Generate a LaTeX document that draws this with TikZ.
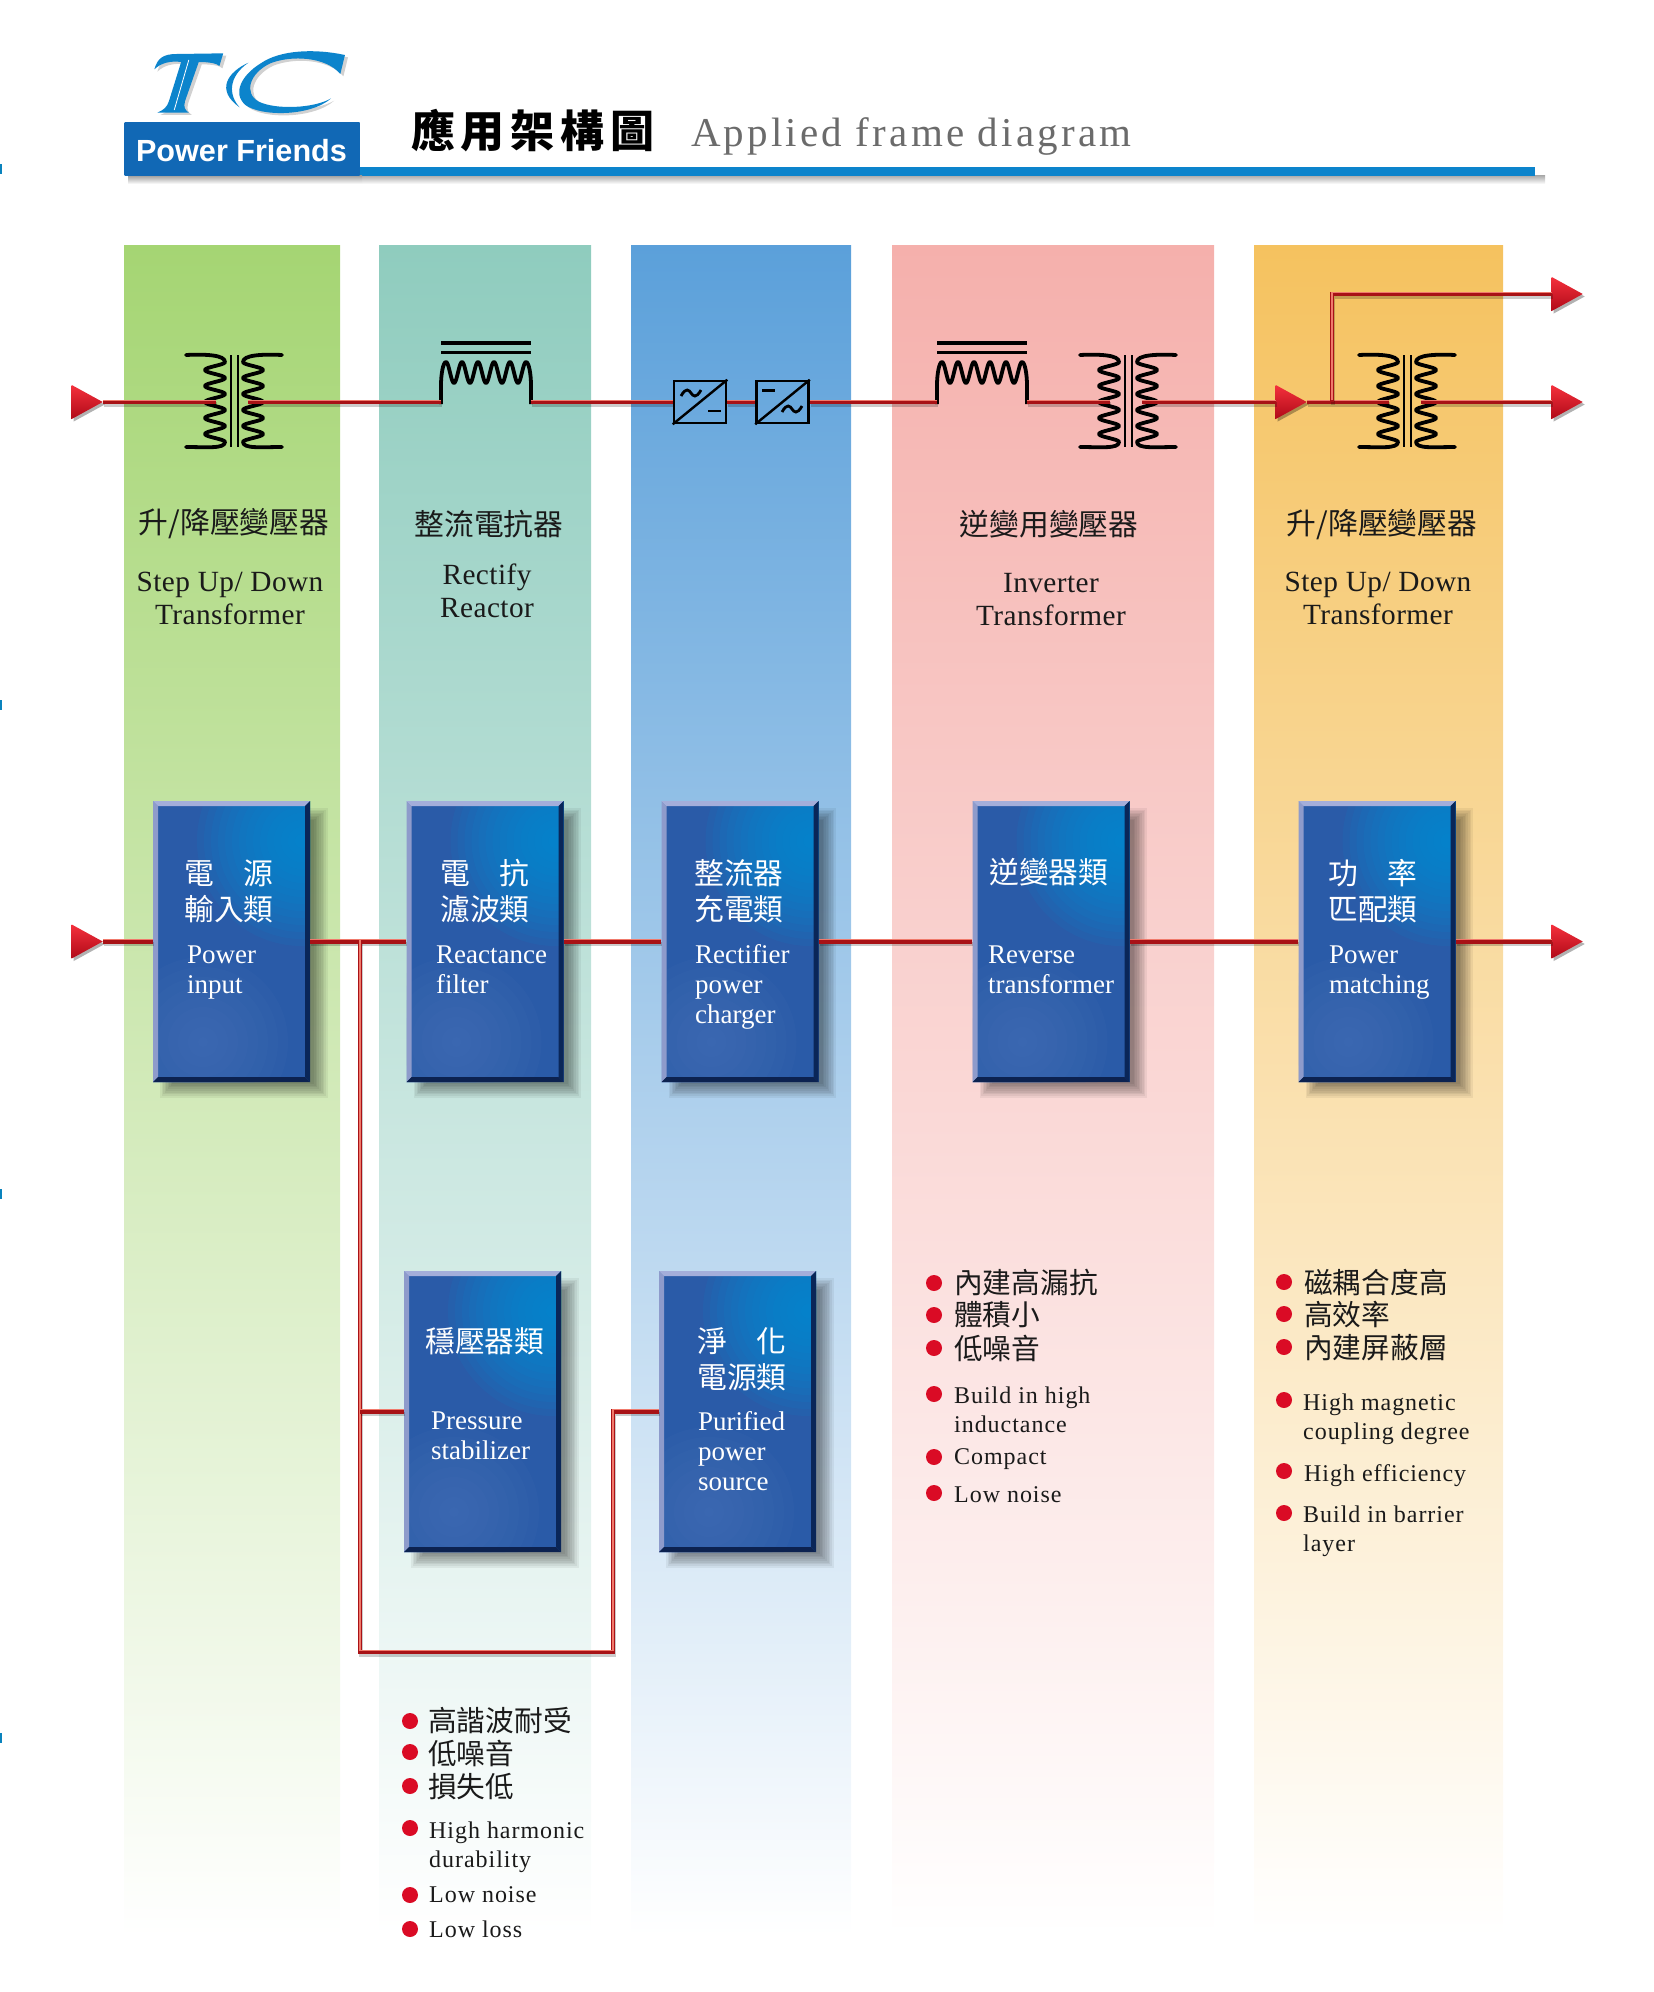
\documentclass[tikz,border=0pt]{standalone}
\usepackage{fontspec}
\usetikzlibrary{shapes.geometric,shadows,calc}
\setmainfont{Liberation Serif}
\newfontfamily\cjk{Noto Sans CJK TC}
\newfontfamily\cjktitle[LetterSpace=13]{Noto Sans CJK TC}
\newfontfamily\entitle[LetterSpace=7.8]{Liberation Serif}
\newfontfamily\enlist[LetterSpace=4]{Liberation Serif}
\newfontfamily\enhead[LetterSpace=1.5]{Liberation Serif}
\newfontfamily\logofont{Liberation Sans}
\newcommand\fs[2]{\fontsize{#1pt}{#2pt}\selectfont}
\definecolor{colgreen}{HTML}{A5D573}
\definecolor{colteal}{HTML}{8FCCBE}
\definecolor{colblue}{HTML}{5BA0DA}
\definecolor{colpink}{HTML}{F5B0AC}
\definecolor{colorange}{HTML}{F5C25F}
\definecolor{tcblue}{HTML}{0C84CC}
\definecolor{wirered}{HTML}{A81216}
\definecolor{wirelight}{HTML}{F07A6C}
\definecolor{blockmid}{HTML}{2A5BA8}
\definecolor{blockhi}{HTML}{0090D8}
\definecolor{blocklow}{HTML}{4A74BA}
\definecolor{bevlight}{HTML}{A4AEDA}
\definecolor{bevleft}{HTML}{8E9BCB}
\definecolor{bevdark}{HTML}{0A2658}
\definecolor{bevbottom}{HTML}{0C2250}
\definecolor{bulred}{HTML}{DA0B25}
\definecolor{inkc}{HTML}{1A1A1A}
\definecolor{logoedge}{HTML}{1168B5}
\definecolor{logomid}{HTML}{2A97DC}
\definecolor{arrowtop}{HTML}{F4303C}
\definecolor{arrowbot}{HTML}{B00A18}
\tikzset{
 x=1pt,y=-1pt,
 colband/.style={shade,top color=#1,bottom color=white,shading angle=0},
 wire/.style={line width=4.6pt,draw=wirered,line cap=butt,line join=miter,
   preaction={draw=black,opacity=.2,line width=4.6pt,transform canvas={xshift=1pt,yshift=-2.5pt}},
   postaction={draw=wirelight,line width=1.1pt,transform canvas={yshift=1.6pt}}},
 redarrow/.style={isosceles triangle,isosceles triangle apex angle=95,isosceles triangle stretches,
   shape border rotate=0,minimum width=34pt,minimum height=31pt,inner sep=0pt,
   top color=arrowtop,bottom color=arrowbot,draw=none,
   drop shadow={shadow xshift=2pt,shadow yshift=-2.5pt,fill=black,opacity=.3}},
 coil/.style={line width=3.8pt,draw=black,line cap=round,line join=round},
 coreline/.style={line width=2pt,draw=black},
 barline/.style={line width=3.6pt,draw=black},
 convbox/.style={draw=black,line width=2.6pt,minimum width=52pt,minimum height=42pt,inner sep=0pt},
 symbolmark/.style={inner sep=0pt,minimum size=1pt},
 blockbase/.style={minimum width=157pt,minimum height=281pt,inner sep=0pt,fill=blockmid,
  path picture={
   \foreach \rr in {105,98,...,5}{
    \fill[blockhi,opacity=.1] ([xshift=-8pt,yshift=-40pt]path picture bounding box.north east) circle (\rr pt);
   }
   \foreach \rr in {85,75,...,5}{
    \fill[blocklow,opacity=.1] ([xshift=50pt,yshift=40pt]path picture bounding box.south west) circle (\rr pt);
   }
   \fill[bevleft] (path picture bounding box.north west) -- ([xshift=5pt,yshift=-5pt]path picture bounding box.north west) -- ([xshift=5pt,yshift=5pt]path picture bounding box.south west) -- (path picture bounding box.south west) -- cycle;
   \fill[bevlight] (path picture bounding box.north west) -- ([xshift=5pt,yshift=-5pt]path picture bounding box.north west) -- ([xshift=-5pt,yshift=-5pt]path picture bounding box.north east) -- (path picture bounding box.north east) -- cycle;
   \fill[bevdark] (path picture bounding box.north east) -- ([xshift=-5pt,yshift=-5pt]path picture bounding box.north east) -- ([xshift=-5pt,yshift=5pt]path picture bounding box.south east) -- (path picture bounding box.south east) -- cycle;
   \fill[bevbottom] (path picture bounding box.south west) -- ([xshift=5pt,yshift=5pt]path picture bounding box.south west) -- ([xshift=-5pt,yshift=5pt]path picture bounding box.south east) -- (path picture bounding box.south east) -- cycle;
  }},
 blockcjk/.style={anchor=north west,align=left,inner sep=0pt,yshift=19pt,text=white,font=\cjk\fs{29.8}{36},
   execute at begin node={\rule{0pt}{30pt}}},
 blockcjkmulti/.style={blockcjk,yshift=-6.4pt},
 blocken/.style={anchor=north west,align=left,inner sep=0pt,yshift=16.5pt,text=white,font=\fs{27}{30},
   execute at begin node={\rule{0pt}{24pt}}},
 headcjk/.style={anchor=center,inner sep=0pt,text=inkc,font=\cjk\fs{29.8}{36}},
 headen/.style={anchor=north,align=center,inner sep=0pt,yshift=20pt,text=inkc,font=\enhead\fs{29.3}{33},
   execute at begin node={\rule{0pt}{24pt}}},
 listcjk/.style={anchor=west,inner sep=0pt,text=inkc,font=\cjk\fs{28.7}{33}},
 listen/.style={anchor=north west,align=left,inner sep=0pt,yshift=20pt,text=inkc,font=\enlist\fs{24}{29},
   execute at begin node={\rule{0pt}{20pt}}},
 bulletdot/.style={circle,fill=bulred,minimum size=16pt,inner sep=0pt},
}
\newcommand\transformer[2]{% name, core x
 \node[symbolmark] (#1) at (#2,402) {};
 \coordinate (#1-in) at (#2-18,402);
 \coordinate (#1-out) at (#2+14,402);
 \begin{scope}[shift={(#2,0)}]
  \draw[coreline] (-3.5,355) -- (-3.5,447);
  \draw[coreline] (3.5,355) -- (3.5,447);
  \foreach \sgn in {1,-1}{
   \begin{scope}[xscale=\sgn]
    \draw[coil] (-48,355) .. controls (-28,354) and (-9,355) .. (-9,362)
      -- plot[domain=0:80,samples=121] ({-19+10*cos(22.5*\x)},{362+\x})
      .. controls (-9,449) and (-28,447) .. (-48,447);
   \end{scope}
  }
 \end{scope}
}
\newcommand\reactor[3]{% name, xL, xR
 \node[symbolmark] (#1) at ({(#2+#3)/2},372) {};
 \coordinate (#1-in) at (#2,402);
 \coordinate (#1-out) at (#3,402);
 \draw[barline] (#2,343) -- (#3,343);
 \draw[barline] (#2,352.5) -- (#3,352.5);
 \pgfmathsetmacro\rspan{#3-#2-10}
 \pgfmathsetmacro\rfac{360/(\rspan/5)}
 \draw[coil,line cap=butt] (#2,404) -- (#2,385) .. controls (#2,375) and (#2+2,362) .. (#2+5,362)
   -- plot[domain=0:\rspan,samples=101] ({#2+5+\x},{372.5-10.5*cos(\rfac*\x)})
   .. controls (#3-2,362) and (#3,375) .. (#3,385) -- (#3,404);
}
\newcommand\tildeat[2]{\draw[line width=2.8pt,black] (#1-10,#2+3) .. controls (#1-5,#2-6) and (#1-2,#2-3) .. (#1,#2) .. controls (#1+2,#2+3) and (#1+5,#2+6) .. (#1+10,#2-3);}
\newcommand\minusat[3]{\draw[line width=#3,black] (#1-6.5,#2) -- (#1+6.5,#2);}
\newcommand\blockat[3]{% name,cx,cy
 \foreach \s in {0,...,8}{
  \fill[black,opacity=.055] (#2-78.5+19-1.5*\s,#3-140.5+19-1.5*\s) rectangle (#2+78.5+4+1.7*\s,#3+140.5+2+1.7*\s);
 }
 \node[blockbase] (#1) at (#2,#3) {};
}
\newcommand\listitem[7]{% id, bx, by, tx, ty, style, text
 \node[bulletdot] (#1-b) at (#2,#3) {};
 \node[#6] (#1-t) at (#4,#5) {#7};
}
\begin{document}
\begin{tikzpicture}
\useasboundingbox (0,0) rectangle (1654,1992);
% page edge marks
\foreach \ey in {169,705,1194,1738}{\fill[tcblue!80!teal] (0,\ey-5) rectangle (2,\ey+5);}
% columns
\fill[colband=colgreen]  (124,245) rectangle (340,1937);
\fill[colband=colteal]   (379,245) rectangle (591,1937);
\fill[colband=colblue]   (631,245) rectangle (851,1937);
\fill[colband=colpink]   (892,245) rectangle (1214,1937);
\fill[colband=colorange] (1254,245) rectangle (1503,1937);
% header
\shade[top color=black!35,bottom color=white] (362,175) rectangle (1545,184);
\fill[tcblue] (359,167) rectangle (1535,175.5);
\shade[top color=black!40,bottom color=white] (128,175) rectangle (362,184);
\node[inner sep=0pt,minimum width=235pt,minimum height=53pt,left color=logoedge,middle color=logomid,right color=logoedge] (logobox) at (242,148.5) {};
\node[inner sep=0pt,text=white,font=\logofont\bfseries\fs{30.6}{30}] (logotext) at (241.5,151) {Power Friends};
% TC logo
\begin{scope}[shift={(100,30)},xscale=0.3827,yscale=0.3333]
 \begin{scope}[shift={(8,7)}]
  \fill[black,opacity=.18] (142,118) .. controls (150,85) and (165,72) .. (200,72) -- (322,70) -- (312,108) .. controls (305,100) and (285,96) .. (258,96) -- (222,214) .. controls (218,232) and (222,240) .. (232,248) -- (150,248) .. controls (166,240) and (175,232) .. (180,214) -- (212,96) .. controls (185,92) and (160,98) .. (142,118) -- cycle;
  \fill[black,opacity=.18] (640,75) .. controls (560,55) and (470,60) .. (420,100) .. controls (370,135) and (345,190) .. (380,225) .. controls (420,260) and (550,260) .. (604,205) .. controls (560,235) and (460,240) .. (415,215) .. controls (375,190) and (390,130) .. (445,100) .. controls (500,75) and (590,80) .. (628,132) -- cycle;
 \end{scope}
 \fill[tcblue] (142,118) .. controls (150,85) and (165,72) .. (200,72) -- (322,70) -- (312,108) .. controls (305,100) and (285,96) .. (258,96) -- (222,214) .. controls (218,232) and (222,240) .. (232,248) -- (150,248) .. controls (166,240) and (175,232) .. (180,214) -- (212,96) .. controls (185,92) and (160,98) .. (142,118) -- cycle;
 \draw[white,line width=.8pt] (232,90) -- (194,240);
 \fill[tcblue] (640,75) .. controls (560,55) and (470,60) .. (420,100) .. controls (370,135) and (345,190) .. (380,225) .. controls (420,260) and (550,260) .. (604,205) .. controls (560,235) and (460,240) .. (415,215) .. controls (375,190) and (390,130) .. (445,100) .. controls (500,75) and (590,80) .. (628,132) -- cycle;
 \fill[tcblue] (388,98) .. controls (335,125) and (300,180) .. (365,232) .. controls (335,195) and (335,140) .. (388,98) -- cycle;
\end{scope}
\node[anchor=base west,inner sep=0pt,text=black,font=\cjktitle\bfseries\fs{44}{44}] (titlecn) at (411,147) {應用架構圖};
\node[anchor=base west,inner sep=0pt,text=black!58,font=\entitle\fs{41}{41}] (titleen) at (691,146) {Applied frame diagram};
% symbols
\transformer{t1}{234}
\reactor{r1}{441}{531}
\node[convbox] (c1) at (700,402) {};
\draw[line width=2.4pt] (c1.south west) -- (c1.north east);
\tildeat{691}{393}\minusat{714.5}{411}{2pt}
\node[convbox] (c2) at (782.5,402) {};
\draw[line width=2.4pt] (c2.south west) -- (c2.north east);
\minusat{768.5}{390}{3pt}\tildeat{792}{409}
\reactor{r2}{937}{1027}
\transformer{t2}{1128}
\transformer{t3}{1407}
% arrows
\node[redarrow,anchor=apex] (a1) at (103,402) {};
\node[redarrow,anchor=apex] (a2) at (1307,402) {};
\node[redarrow,anchor=apex] (a3) at (1583,402) {};
\node[redarrow,anchor=apex] (a4) at (1583,294) {};
\node[redarrow,anchor=apex] (a5) at (103,941.5) {};
\node[redarrow,anchor=apex] (a6) at (1583,941.5) {};
\coordinate (jtop) at (1332,402);
\coordinate (jtopup) at (1332,294);
% upper wires
\draw[wire] (a1.apex) -- (t1-in);
\draw[wire] (t1-out) -- (r1-in);
\draw[wire] (r1-out) -- (c1.west);
\draw[wire] (c1.east) -- (c2.west);
\draw[wire] (c2.east) -- (r2-in);
\draw[wire] (r2-out) -- (t2-in);
\draw[wire] (t2-out) -- (a2.lower side);
\draw[wire] (a2.apex) -- (t3-in);
\draw[wire] (t3-out) -- (a3.lower side);
\draw[wire] (jtop) -- (jtopup) -- (a4.lower side);
% column heads
\node[headcjk] (h1c) at (234,524) {升/降壓變壓器};
\node[headen] (h1e) at (230,592) {Step Up/ Down\\Transformer};
\node[headcjk] (h2c) at (489,524) {整流電抗器};
\node[headen] (h2e) at (487,584) {Rectify\\Reactor};
\node[headcjk] (h4c) at (1049,524) {逆變用變壓器};
\node[headen] (h4e) at (1051,593) {Inverter\\Transformer};
\node[headcjk] (h5c) at (1382,525) {升/降壓變壓器};
\node[headen] (h5e) at (1378,592) {Step Up/ Down\\Transformer};
% blocks
\blockat{b1}{231.5}{941.5}
\blockat{b2}{485}{941.5}
\blockat{b3}{740}{941.5}
\blockat{b4}{1051}{941.5}
\blockat{b5}{1377}{941.5}
\blockat{b6}{482.5}{1411.5}
\blockat{b7}{737.5}{1411.5}
\coordinate (j1) at (360,941.5);
\coordinate (j2) at (360,1411.5);
\coordinate (j3) at (360,1652);
\coordinate (j4) at (613,1652);
\coordinate (j5) at (613,1411.5);
% lower wires
\draw[wire] (a5.apex) -- (b1.west);
\draw[wire] (b1.east) -- (b2.west);
\draw[wire] (b2.east) -- (b3.west);
\draw[wire] (b3.east) -- (b4.west);
\draw[wire] (b4.east) -- (b5.west);
\draw[wire] (b5.east) -- (a6.lower side);
\draw[wire] (j1) -- (j3) -- (j4) -- (j5) -- (b7.west);
\draw[wire] (j2) -- (b6.west);
% block texts
\node[blockcjkmulti] (b1c) at (184,872) {電　源\\輸入類};
\node[blocken] (b1e) at (187,962) {Power\\input};
\node[blockcjkmulti] (b2c) at (440,872) {電　抗\\濾波類};
\node[blocken] (b2e) at (436,962) {Reactance\\filter};
\node[blockcjkmulti] (b3c) at (694,872) {整流器\\充電類};
\node[blocken] (b3e) at (695,961) {Rectifier\\power\\charger};
\node[blockcjk] (b4c) at (989,872) {逆變器類};
\node[blocken] (b4e) at (988,962) {Reverse\\transformer};
\node[blockcjkmulti] (b5c) at (1328,872) {功　率\\匹配類};
\node[blocken] (b5e) at (1329,962) {Power\\matching};
\node[blockcjk] (b6c) at (425,1341) {穩壓器類};
\node[blocken] (b6e) at (431,1428) {Pressure\\stabilizer};
\node[blockcjkmulti] (b7c) at (697,1340) {淨　化\\電源類};
\node[blocken] (b7e) at (698,1428) {Purified\\power\\source};
% lists
\listitem{la1}{410}{1721}{428}{1721}{listcjk}{高諧波耐受}
\listitem{la2}{410}{1752}{428}{1753}{listcjk}{低噪音}
\listitem{la3}{410}{1786}{428}{1787}{listcjk}{損失低}
\listitem{la4}{410}{1828}{429}{1842}{listen}{High harmonic\\durability}
\listitem{la5}{410}{1895}{429}{1902}{listen}{Low noise}
\listitem{la6}{410}{1929}{429}{1937}{listen}{Low loss}
\listitem{lb1}{934}{1283}{954}{1283}{listcjk}{內建高漏抗}
\listitem{lb2}{934}{1315}{954}{1315}{listcjk}{體積小}
\listitem{lb3}{934}{1348}{954}{1348}{listcjk}{低噪音}
\listitem{lb4}{934}{1394}{954}{1407}{listen}{Build in high\\inductance}
\listitem{lb5}{934}{1457}{954}{1464.5}{listen}{Compact}
\listitem{lb6}{934}{1493}{954}{1502}{listen}{Low noise}
\listitem{lc1}{1284}{1282}{1304}{1283}{listcjk}{磁耦合度高}
\listitem{lc2}{1284}{1314}{1304}{1315}{listcjk}{高效率}
\listitem{lc3}{1284}{1347}{1304}{1348}{listcjk}{內建屏蔽層}
\listitem{lc4}{1284}{1400}{1303}{1414}{listen}{High magnetic\\coupling degree}
\listitem{lc5}{1284}{1471}{1304}{1481}{listen}{High efficiency}
\listitem{lc6}{1284}{1513}{1303}{1526}{listen}{Build in barrier\\layer}
\end{tikzpicture}
\end{document}
